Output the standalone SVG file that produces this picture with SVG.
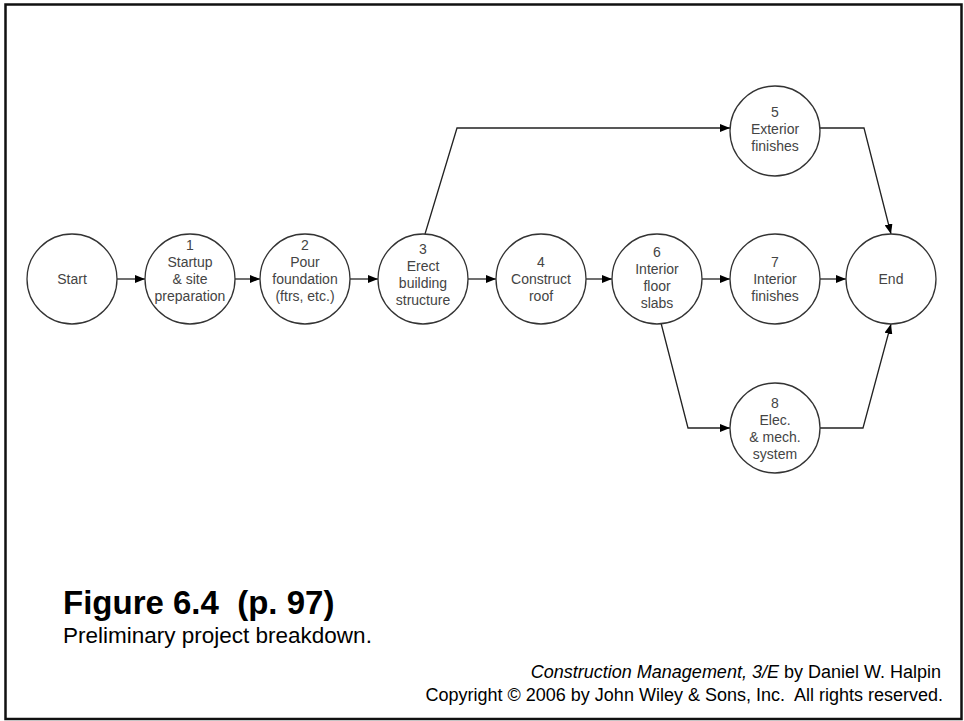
<svg xmlns="http://www.w3.org/2000/svg" width="964" height="721" viewBox="0 0 964 721">
  <style>
    .node circle { fill: #fff; stroke: #333; stroke-width: 1.3; }
    .node text { font-family: "Liberation Sans", Arial, sans-serif; font-size: 14px; fill: #444; text-anchor: middle; }
    .edge { fill: none; stroke: #222; stroke-width: 1.3; marker-end: url(#arrow); }
    .title { font-family: "Liberation Sans", Arial, sans-serif; font-weight: bold; font-size: 33px; fill: #000; }
    .sub { font-family: "Liberation Sans", Arial, sans-serif; font-size: 22.5px; fill: #000; }
    .credit { font-family: "Liberation Sans", Arial, sans-serif; font-size: 18px; fill: #000; text-anchor: end; }
  </style>
  <defs>
    <marker id="arrow" markerUnits="userSpaceOnUse" markerWidth="10" markerHeight="8" refX="10" refY="4" orient="auto">
      <path d="M0,0 L10,4 L0,8 Z" fill="#000"/>
    </marker>
  </defs>

  <rect x="0" y="0" width="964" height="721" fill="#fff"/>
  <!-- slide frame -->
  <rect x="5.5" y="4.5" width="956" height="714.5" fill="none" stroke="#111" stroke-width="2.5"/>

  <!-- connectors -->
  <g id="connectors">
    <line class="edge" x1="117" y1="279" x2="145" y2="279"/>
    <line class="edge" x1="235" y1="279" x2="260" y2="279"/>
    <line class="edge" x1="350" y1="279" x2="378" y2="279"/>
    <line class="edge" x1="468" y1="279" x2="496" y2="279"/>
    <line class="edge" x1="586" y1="279" x2="612" y2="279"/>
    <line class="edge" x1="702" y1="279" x2="730" y2="279"/>
    <line class="edge" x1="820" y1="279" x2="846" y2="279"/>
    <polyline class="edge" points="425,234 457,128 730,128"/>
    <polyline class="edge" points="820,128 864,128 891,234"/>
    <polyline class="edge" points="661,323 688,428 730,428"/>
    <polyline class="edge" points="820,428 863,428 891,324"/>
  </g>

  <g id="start" class="node">
    <circle cx="72" cy="279" r="45"/>
    <text x="72" y="284">Start</text>
  </g>
  <g id="n1" class="node">
    <circle cx="190" cy="279" r="45"/>
    <text x="190" y="250">1</text>
    <text x="190" y="267">Startup</text>
    <text x="190" y="284">&amp; site</text>
    <text x="190" y="301">preparation</text>
  </g>
  <g id="n2" class="node">
    <circle cx="305" cy="279" r="45"/>
    <text x="305" y="250">2</text>
    <text x="305" y="267">Pour</text>
    <text x="305" y="284">foundation</text>
    <text x="305" y="301">(ftrs, etc.)</text>
  </g>
  <g id="n3" class="node">
    <circle cx="423" cy="279" r="45"/>
    <text x="423" y="254">3</text>
    <text x="423" y="271">Erect</text>
    <text x="423" y="288">building</text>
    <text x="423" y="305">structure</text>
  </g>
  <g id="n4" class="node">
    <circle cx="541" cy="279" r="45"/>
    <text x="541" y="267">4</text>
    <text x="541" y="284">Construct</text>
    <text x="541" y="301">roof</text>
  </g>
  <g id="n6" class="node">
    <circle cx="657" cy="279" r="45"/>
    <text x="657" y="257">6</text>
    <text x="657" y="274">Interior</text>
    <text x="657" y="291">floor</text>
    <text x="657" y="308">slabs</text>
  </g>
  <g id="n7" class="node">
    <circle cx="775" cy="279" r="45"/>
    <text x="775" y="267">7</text>
    <text x="775" y="284">Interior</text>
    <text x="775" y="301">finishes</text>
  </g>
  <g id="end" class="node">
    <circle cx="891" cy="279" r="45"/>
    <text x="891" y="284">End</text>
  </g>
  <g id="n5" class="node">
    <circle cx="775" cy="131" r="45"/>
    <text x="775" y="117">5</text>
    <text x="775" y="134">Exterior</text>
    <text x="775" y="151">finishes</text>
  </g>
  <g id="n8" class="node">
    <circle cx="775" cy="428" r="45"/>
    <text x="775" y="408">8</text>
    <text x="775" y="425">Elec.</text>
    <text x="775" y="442">&amp; mech.</text>
    <text x="775" y="459">system</text>
  </g>

  <!-- caption -->
  <text class="title" x="63" y="614" xml:space="preserve">Figure 6.4  (p. 97)</text>
  <text class="sub" x="63" y="643">Preliminary project breakdown.</text>

  <!-- credits -->
  <text class="credit" x="941" y="678"><tspan font-style="italic">Construction Management, 3/E</tspan> by Daniel W. Halpin</text>
  <text class="credit" x="943" y="701" xml:space="preserve">Copyright © 2006 by John Wiley &amp; Sons, Inc.  All rights reserved.</text>
</svg>
